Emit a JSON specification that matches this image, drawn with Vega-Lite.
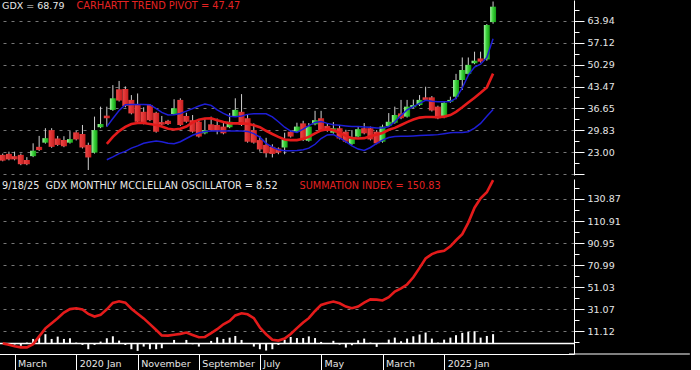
{
  "$schema": "https://vega.github.io/schema/vega-lite/v6.json",
  "background": "black",
  "padding": {"left": -4, "top": 0, "right": 0, "bottom": 0},
  "spacing": 0,
  "config": {
    "font": "DejaVu Sans",
    "view": {"stroke": null},
    "axis": {
      "domainColor": "white",
      "domainWidth": 1,
      "tickColor": "white",
      "tickWidth": 1,
      "labelColor": "#e6e6e6",
      "labelFontSize": 9.5,
      "labelFont": "DejaVu Sans",
      "gridColor": "#777777",
      "gridDash": [3, 5],
      "gridWidth": 1,
      "labelPadding": 3
    }
  },
  "datasets": {
    "gdx": [
      {"d":"2019-01-01","o":22.2,"h":22.6,"l":20.2,"c":20.4,"s":0.2,"m":0.5},
      {"d":"2019-02-01","o":22.5,"h":23.2,"l":20.5,"c":20.8,"s":-1.0,"m":-2.0},
      {"d":"2019-03-01","o":21.8,"h":23.2,"l":20.5,"c":20.8,"s":-2.5,"m":-0.9},
      {"d":"2019-04-01","o":22.2,"h":22.6,"l":19.0,"c":19.3,"s":-3.4,"m":-2.0},
      {"d":"2019-05-01","o":20.6,"h":21.5,"l":19.0,"c":19.3,"s":-3.4,"m":0.9},
      {"d":"2019-06-01","o":21.8,"h":25.8,"l":21.5,"c":23.5,"s":-0.5,"m":4.2},
      {"d":"2019-07-01","o":24.7,"h":28.1,"l":23.4,"c":23.7,"s":6.5,"m":6.3},
      {"d":"2019-08-01","o":26.0,"h":30.5,"l":25.7,"c":27.4,"s":13.8,"m":8.5},
      {"d":"2019-09-01","o":29.9,"h":30.5,"l":24.4,"c":24.7,"s":18.5,"m":4.2},
      {"d":"2019-10-01","o":27.3,"h":28.1,"l":25.0,"c":25.3,"s":23.0,"m":6.3},
      {"d":"2019-11-01","o":26.8,"h":28.0,"l":24.6,"c":24.9,"s":28.0,"m":4.2},
      {"d":"2019-12-01","o":26.0,"h":29.6,"l":25.7,"c":27.1,"s":31.2,"m":4.8},
      {"d":"2020-01-01","o":29.2,"h":29.6,"l":26.7,"c":27.0,"s":32.0,"m":0.9},
      {"d":"2020-02-01","o":28.7,"h":31.5,"l":24.2,"c":24.5,"s":30.8,"m":-1.2},
      {"d":"2020-03-01","o":25.3,"h":26.0,"l":17.5,"c":21.4,"s":26.8,"m":-5.1},
      {"d":"2020-04-01","o":22.9,"h":34.1,"l":22.6,"c":29.9,"s":24.5,"m":-1.2},
      {"d":"2020-05-01","o":30.8,"h":37.2,"l":30.5,"c":31.8,"s":26.0,"m":1.8},
      {"d":"2020-06-01","o":34.4,"h":37.2,"l":31.0,"c":33.6,"p":25.6,"u":31.0,"w":20.7,"s":31.0,"m":4.8},
      {"d":"2020-07-01","o":36.2,"h":43.9,"l":35.9,"c":39.8,"p":27.8,"u":33.5,"w":21.6,"s":36.8,"m":6.6},
      {"d":"2020-08-01","o":42.6,"h":45.2,"l":38.8,"c":39.1,"p":29.6,"u":36.0,"w":22.6,"s":38.3,"m":2.7},
      {"d":"2020-09-01","o":42.7,"h":43.5,"l":37.0,"c":37.4,"p":30.9,"u":37.8,"w":23.3,"s":37.0,"m":-1.2},
      {"d":"2020-10-01","o":39.3,"h":40.8,"l":34.8,"c":35.1,"p":31.8,"u":37.9,"w":24.3,"s":31.5,"m":-5.1},
      {"d":"2020-11-01","o":37.7,"h":41.3,"l":32.2,"c":32.5,"p":32.1,"u":37.9,"w":25.0,"s":27.0,"m":-6.6},
      {"d":"2020-12-01","o":35.6,"h":37.0,"l":31.7,"c":32.0,"p":32.1,"u":37.9,"w":25.8,"s":22.8,"m":-2.7},
      {"d":"2021-01-01","o":37.7,"h":38.0,"l":32.7,"c":33.0,"p":31.8,"u":37.8,"w":26.2,"s":17.6,"m":-5.1},
      {"d":"2021-02-01","o":35.3,"h":35.6,"l":29.1,"c":29.4,"p":31.5,"u":36.6,"w":26.5,"s":12.3,"m":-5.1},
      {"d":"2021-03-01","o":32.4,"h":34.3,"l":31.3,"c":31.6,"p":31.0,"u":35.4,"w":26.3,"s":7.3,"m":-4.2},
      {"d":"2021-04-01","o":32.8,"h":33.1,"l":31.5,"c":31.8,"p":30.3,"u":34.6,"w":25.8,"s":7.2,"m":-0.3},
      {"d":"2021-05-01","o":34.9,"h":39.5,"l":34.6,"c":36.7,"p":30.1,"u":34.7,"w":25.7,"s":8.0,"m":3.3},
      {"d":"2021-06-01","o":39.3,"h":39.8,"l":31.2,"c":31.5,"p":30.3,"u":35.1,"w":26.3,"s":8.8,"m":-0.3},
      {"d":"2021-07-01","o":34.3,"h":35.3,"l":32.2,"c":32.5,"p":31.0,"u":35.8,"w":27.3,"s":10.0,"m":3.3},
      {"d":"2021-08-01","o":33.0,"h":34.6,"l":29.1,"c":29.4,"p":32.3,"u":36.6,"w":28.3,"s":7.8,"m":-0.6},
      {"d":"2021-09-01","o":32.5,"h":33.0,"l":27.6,"c":27.9,"p":33.1,"u":37.4,"w":29.0,"s":5.7,"m":-2.7},
      {"d":"2021-10-01","o":28.9,"h":33.6,"l":28.6,"c":29.9,"p":33.5,"u":38.0,"w":29.5,"s":6.0,"m":-0.3},
      {"d":"2021-11-01","o":31.7,"h":34.1,"l":29.6,"c":29.9,"p":33.6,"u":37.6,"w":29.6,"s":9.5,"m":2.4},
      {"d":"2021-12-01","o":31.5,"h":33.5,"l":28.6,"c":29.7,"p":33.0,"u":36.2,"w":29.6,"s":13.0,"m":5.7},
      {"d":"2022-01-01","o":31.0,"h":32.5,"l":28.6,"c":28.9,"p":32.4,"u":35.1,"w":29.6,"s":17.5,"m":4.2},
      {"d":"2022-02-01","o":30.8,"h":35.2,"l":30.5,"c":32.5,"p":32.0,"u":34.2,"w":29.6,"s":20.5,"m":5.4},
      {"d":"2022-03-01","o":34.3,"h":39.8,"l":34.0,"c":36.2,"p":32.0,"u":34.1,"w":29.6,"s":25.5,"m":6.9},
      {"d":"2022-04-01","o":35.6,"h":41.1,"l":31.2,"c":31.5,"p":32.0,"u":34.3,"w":29.6,"s":27.4,"m":3.3},
      {"d":"2022-05-01","o":33.6,"h":34.6,"l":26.0,"c":26.3,"p":31.9,"u":34.8,"w":29.5,"s":26.5,"m":-0.3},
      {"d":"2022-06-01","o":29.9,"h":32.0,"l":25.7,"c":26.0,"p":31.4,"u":35.0,"w":28.8,"s":23.0,"m":-2.7},
      {"d":"2022-07-01","o":26.8,"h":28.1,"l":23.2,"c":23.9,"p":30.8,"u":35.0,"w":27.7,"s":14.5,"m":-5.1},
      {"d":"2022-08-01","o":25.3,"h":27.5,"l":21.4,"c":22.7,"p":29.7,"u":35.0,"w":25.8,"s":8.5,"m":-6.3},
      {"d":"2022-09-01","o":24.7,"h":25.5,"l":21.4,"c":22.5,"p":28.7,"u":34.0,"w":24.6,"s":3.5,"m":-5.1},
      {"d":"2022-10-01","o":24.2,"h":24.5,"l":22.4,"c":22.9,"p":27.8,"u":32.5,"w":23.8,"s":2.7,"m":-1.2},
      {"d":"2022-11-01","o":24.5,"h":29.1,"l":22.4,"c":27.0,"p":27.0,"u":30.8,"w":23.5,"s":4.5,"m":3.5},
      {"d":"2022-12-01","o":29.4,"h":29.9,"l":27.6,"c":27.9,"p":26.8,"u":29.6,"w":23.5,"s":8.7,"m":6.0},
      {"d":"2023-01-01","o":29.4,"h":32.2,"l":29.1,"c":31.0,"p":26.8,"u":29.2,"w":23.6,"s":14.0,"m":5.0},
      {"d":"2023-02-01","o":32.0,"h":32.8,"l":26.5,"c":26.8,"p":27.2,"u":30.2,"w":23.8,"s":19.0,"m":5.0},
      {"d":"2023-03-01","o":26.6,"h":32.1,"l":26.3,"c":31.0,"p":27.8,"u":31.3,"w":24.3,"s":23.0,"m":6.5},
      {"d":"2023-04-01","o":31.7,"h":35.9,"l":31.4,"c":33.0,"p":28.9,"u":32.3,"w":25.5,"s":29.5,"m":5.0},
      {"d":"2023-05-01","o":33.6,"h":35.9,"l":29.6,"c":29.9,"p":29.8,"u":32.6,"w":27.3,"s":35.0,"m":1.5},
      {"d":"2023-06-01","o":31.2,"h":32.1,"l":29.4,"c":29.7,"p":30.2,"u":32.0,"w":28.4,"s":36.8,"m":0.3},
      {"d":"2023-07-01","o":29.1,"h":32.4,"l":28.8,"c":30.5,"p":29.9,"u":31.6,"w":28.5,"s":38.0,"m":2.5},
      {"d":"2023-08-01","o":30.5,"h":31.5,"l":27.0,"c":27.3,"p":29.0,"u":31.4,"w":27.5,"s":36.5,"m":-0.9},
      {"d":"2023-09-01","o":29.4,"h":30.0,"l":26.0,"c":26.3,"p":28.1,"u":31.2,"w":26.3,"s":33.5,"m":-3.6},
      {"d":"2023-10-01","o":25.6,"h":29.9,"l":25.3,"c":27.3,"p":27.4,"u":31.0,"w":25.0,"s":32.0,"m":-1.5},
      {"d":"2023-11-01","o":27.9,"h":31.0,"l":27.6,"c":30.2,"p":27.3,"u":31.0,"w":24.0,"s":33.5,"m":3.0},
      {"d":"2023-12-01","o":30.5,"h":32.1,"l":28.6,"c":28.9,"p":27.4,"u":30.9,"w":23.6,"s":37.0,"m":4.5},
      {"d":"2024-01-01","o":30.5,"h":31.0,"l":26.7,"c":27.0,"p":28.0,"u":30.8,"w":24.5,"s":40.0,"m":0.9},
      {"d":"2024-02-01","o":29.4,"h":29.9,"l":25.5,"c":25.8,"p":28.5,"u":30.6,"w":25.8,"s":39.8,"m":-3.0},
      {"d":"2024-03-01","o":26.3,"h":31.6,"l":26.0,"c":31.0,"p":29.0,"u":30.6,"w":26.8,"s":39.0,"m":0.6},
      {"d":"2024-04-01","o":31.2,"h":35.2,"l":30.9,"c":32.5,"p":30.0,"u":31.0,"w":27.6,"s":42.0,"m":3.6},
      {"d":"2024-05-01","o":32.2,"h":37.2,"l":31.9,"c":34.6,"p":30.6,"u":32.5,"w":27.9,"s":47.0,"m":5.4},
      {"d":"2024-06-01","o":35.1,"h":39.3,"l":33.3,"c":33.6,"p":31.5,"u":34.5,"w":28.0,"s":50.0,"m":2.1},
      {"d":"2024-07-01","o":34.1,"h":39.3,"l":33.8,"c":37.2,"p":32.4,"u":36.2,"w":28.0,"s":53.5,"m":4.5},
      {"d":"2024-08-01","o":37.0,"h":39.4,"l":36.7,"c":37.7,"p":33.2,"u":37.2,"w":28.1,"s":60.0,"m":6.6},
      {"d":"2024-09-01","o":37.7,"h":40.8,"l":37.4,"c":39.3,"p":33.8,"u":38.2,"w":28.2,"s":68.5,"m":8.2},
      {"d":"2024-10-01","o":40.1,"h":43.4,"l":39.0,"c":39.3,"p":34.0,"u":39.2,"w":28.3,"s":77.0,"m":10.0},
      {"d":"2024-11-01","o":40.1,"h":40.5,"l":35.7,"c":36.0,"p":34.0,"u":38.9,"w":28.4,"s":81.0,"m":4.5},
      {"d":"2024-12-01","o":37.2,"h":37.5,"l":33.3,"c":33.6,"p":33.9,"u":38.7,"w":28.5,"s":83.0,"m":0.9},
      {"d":"2025-01-01","o":33.9,"h":38.7,"l":33.6,"c":38.4,"p":34.1,"u":38.7,"w":28.8,"s":84.0,"m":3.6},
      {"d":"2025-02-01","o":38.7,"h":40.3,"l":38.4,"c":39.3,"p":34.6,"u":38.8,"w":29.1,"s":88.0,"m":5.4},
      {"d":"2025-03-01","o":40.3,"h":47.4,"l":39.5,"c":45.5,"p":35.6,"u":39.8,"w":29.2,"s":93.5,"m":7.6},
      {"d":"2025-04-01","o":45.5,"h":52.5,"l":42.4,"c":48.6,"p":37.0,"u":43.0,"w":29.2,"s":99.0,"m":9.7},
      {"d":"2025-05-01","o":47.4,"h":52.5,"l":47.0,"c":50.2,"p":38.5,"u":47.0,"w":29.4,"s":109.5,"m":10.6},
      {"d":"2025-06-01","o":50.7,"h":54.3,"l":50.4,"c":51.5,"p":40.0,"u":49.5,"w":30.5,"s":123.0,"m":11.2},
      {"d":"2025-07-01","o":52.2,"h":54.3,"l":50.9,"c":51.2,"p":41.5,"u":50.4,"w":32.0,"s":131.5,"m":5.4},
      {"d":"2025-08-01","o":51.9,"h":62.9,"l":51.5,"c":62.6,"p":43.2,"u":52.5,"w":34.2,"s":137.0,"m":6.9},
      {"d":"2025-09-01","o":63.5,"h":69.9,"l":63.0,"c":68.3,"p":47.47,"u":58.3,"w":36.3,"s":148.0,"m":8.52}
    ]
  },
  "vconcat": [
    {
      "width": 577,
      "height": 175,
      "data": {"name": "gdx"},
      "layer": [
        {
          "mark": {"type": "rule", "color": "#d0d0d0", "strokeWidth": 1, "clip": true},
          "encoding": {
            "x": {"field": "d", "type": "temporal", "title": null, "axis": null,
                  "scale": {"domain": [{"year": 2018, "month": 12, "date": 28, "hours": 12, "utc": true}, {"year": 2026, "month": 9, "date": 13, "utc": true}]}},
            "y": {"field": "l", "type": "quantitative", "title": null,
                  "scale": {"domain": [15.94, 70.38], "nice": false, "zero": false},
                  "axis": {
                    "orient": "right",
                    "title": null,
                    "grid": true,
                    "tickCount": 100,
                    "labelOverlap": false,
                    "labelBound": false,
                    "values": [16.18, 19.5905, 23, 26.4155, 29.83, 33.2405, 36.65, 40.0605, 43.47, 46.8805, 50.29, 53.7055, 57.12, 60.5305, 63.94, 67.3505],
                    "labelExpr": "abs(datum.value*100 - round(datum.value*100)) < 0.01 && datum.value > 17 ? format(datum.value, '.2f') : ''",
                    "tickSize": {"condition": {"test": "abs(datum.value*100 - round(datum.value*100)) < 0.01", "value": 10}, "value": 5},
                    "gridOpacity": {"condition": {"test": "abs(datum.value*100 - round(datum.value*100)) < 0.01", "value": 1}, "value": 0}
                  }},
            "y2": {"field": "h"}
          }
        },
        {
          "mark": {"type": "bar", "width": 6, "clip": true},
          "encoding": {
            "x": {"field": "d", "type": "temporal", "title": null},
            "y": {"field": "o", "type": "quantitative", "title": null},
            "y2": {"field": "c"},
            "color": {
              "condition": {"test": "datum.c >= datum.o", "value": {"gradient": "linear", "x1": 0, "x2": 1, "y1": 0, "y2": 0, "stops": [{"offset": 0, "color": "#a6f3a6"}, {"offset": 0.45, "color": "#3cd43c"}, {"offset": 1, "color": "#139a13"}]}},
              "value": {"gradient": "linear", "x1": 0, "x2": 1, "y1": 0, "y2": 0, "stops": [{"offset": 0, "color": "#f04646"}, {"offset": 1, "color": "#c81e1e"}]}
            }
          }
        },
        {
          "mark": {"type": "line", "color": "#1e1ed6", "strokeWidth": 1.5, "clip": true},
          "encoding": {
            "x": {"field": "d", "type": "temporal", "title": null},
            "y": {"field": "u", "type": "quantitative", "title": null}
          }
        },
        {
          "mark": {"type": "line", "color": "#1e1ed6", "strokeWidth": 1.5, "clip": true},
          "encoding": {
            "x": {"field": "d", "type": "temporal", "title": null},
            "y": {"field": "w", "type": "quantitative", "title": null}
          }
        },
        {
          "mark": {"type": "line", "color": "#e41b1b", "strokeWidth": 2.6, "clip": true},
          "encoding": {
            "x": {"field": "d", "type": "temporal", "title": null},
            "y": {"field": "p", "type": "quantitative", "title": null}
          }
        },
        {
          "data": {"values": [{"t": "GDX = 68.79"}]},
          "mark": {"type": "text", "align": "left", "baseline": "middle", "color": "#e8e8e8", "fontSize": 9.5},
          "encoding": {
            "x": {"datum": {"year": 2018, "month": 12, "date": 29, "utc": true}, "type": "temporal"},
            "y": {"datum": 68.5, "type": "quantitative"},
            "text": {"field": "t"}
          }
        },
        {
          "data": {"values": [{"t": "CARHARTT TREND PIVOT = 47.47"}]},
          "mark": {"type": "text", "align": "left", "baseline": "middle", "color": "#e42222", "fontSize": 9.8},
          "encoding": {
            "x": {"datum": {"year": 2020, "month": 1, "date": 2, "utc": true}, "type": "temporal"},
            "y": {"datum": 68.5, "type": "quantitative"},
            "text": {"field": "t"}
          }
        }
      ]
    },
    {
      "width": 577,
      "height": 175,
      "data": {"name": "gdx"},
      "layer": [
        {
          "mark": {"type": "bar", "width": 2, "color": "white", "clip": true},
          "encoding": {
            "x": {"field": "d", "type": "temporal", "title": null,
                  "scale": {"domain": [{"year": 2018, "month": 12, "date": 28, "hours": 12, "utc": true}, {"year": 2026, "month": 9, "date": 13, "utc": true}]},
                  "axis": {
                    "title": null,
                    "grid": false,
                    "tickCount": 100,
                    "values": [{"year": 2019, "month": 3, "date": 1, "utc": true}, {"year": 2020, "month": 1, "date": 1, "utc": true}, {"year": 2020, "month": 11, "date": 1, "utc": true}, {"year": 2021, "month": 9, "date": 1, "utc": true}, {"year": 2022, "month": 7, "date": 1, "utc": true}, {"year": 2023, "month": 5, "date": 1, "utc": true}, {"year": 2024, "month": 3, "date": 1, "utc": true}, {"year": 2025, "month": 1, "date": 1, "utc": true}],
                    "labelExpr": "utcmonth(datum.value) == 0 ? utcyear(datum.value) + ' Jan' : ['January','February','March','April','May','June','July','August','September','October','November','December'][utcmonth(datum.value)]",
                    "tickSize": 20,
                    "labelAlign": "left",
                    "labelOffset": 3,
                    "labelPadding": -10.5,
                    "labelBaseline": "middle",
                    "labelFlush": false,
                    "labelOverlap": false,
                    "labelBound": false
                  }},
            "y": {"field": "m", "type": "quantitative", "title": null,
                  "scale": {"domain": [-9.43, 148.97], "nice": false, "zero": false},
                  "axis": {
                    "orient": "right",
                    "title": null,
                    "grid": true,
                    "tickCount": 100,
                    "labelOverlap": false,
                    "labelBound": false,
                    "values": [1.1405, 11.12, 21.0955, 31.07, 41.0505, 51.03, 61.0105, 70.99, 80.9705, 90.95, 100.9305, 110.91, 120.8905, 130.87, 140.8505],
                    "labelExpr": "abs(datum.value*100 - round(datum.value*100)) < 0.01 ? format(datum.value, '.2f') : ''",
                    "tickSize": {"condition": {"test": "abs(datum.value*100 - round(datum.value*100)) < 0.01", "value": 10}, "value": 5},
                    "gridOpacity": {"condition": {"test": "abs(datum.value*100 - round(datum.value*100)) < 0.01", "value": 1}, "value": 0}
                  }},
            "y2": {"datum": 0}
          }
        },
        {
          "data": {"values": [{"k": 1}]},
          "mark": {"type": "rule", "color": "white", "strokeWidth": 1.5},
          "encoding": {
            "y": {"datum": 0, "type": "quantitative"}
          }
        },
        {
          "data": {"values": [{"k": 1}]},
          "mark": {"type": "rule", "color": "white", "strokeWidth": 1},
          "encoding": {
            "x": {"datum": {"year": 2026, "month": 9, "date": 13, "utc": true}, "type": "temporal"},
            "x2": {"datum": {"year": 2028, "month": 5, "date": 5, "utc": true}},
            "y": {"datum": -9.43, "type": "quantitative"}
          }
        },
        {
          "mark": {"type": "line", "color": "#e41b1b", "strokeWidth": 2.6, "clip": true},
          "encoding": {
            "x": {"field": "d", "type": "temporal", "title": null},
            "y": {"field": "s", "type": "quantitative", "title": null}
          }
        },
        {
          "data": {"values": [{"t": "9/18/25\u00a0 GDX MONTHLY MCCLELLAN OSCILLATOR = 8.52"}]},
          "mark": {"type": "text", "align": "left", "baseline": "middle", "color": "#e8e8e8", "fontSize": 9.7},
          "encoding": {
            "x": {"datum": {"year": 2018, "month": 12, "date": 29, "utc": true}, "type": "temporal"},
            "y": {"datum": 142.9, "type": "quantitative"},
            "text": {"field": "t"}
          }
        },
        {
          "data": {"values": [{"t": "SUMMATION INDEX = 150.83"}]},
          "mark": {"type": "text", "align": "left", "baseline": "middle", "color": "#e42222", "fontSize": 9.7},
          "encoding": {
            "x": {"datum": {"year": 2023, "month": 1, "date": 14, "utc": true}, "type": "temporal"},
            "y": {"datum": 142.9, "type": "quantitative"},
            "text": {"field": "t"}
          }
        }
      ]
    }
  ]
}
